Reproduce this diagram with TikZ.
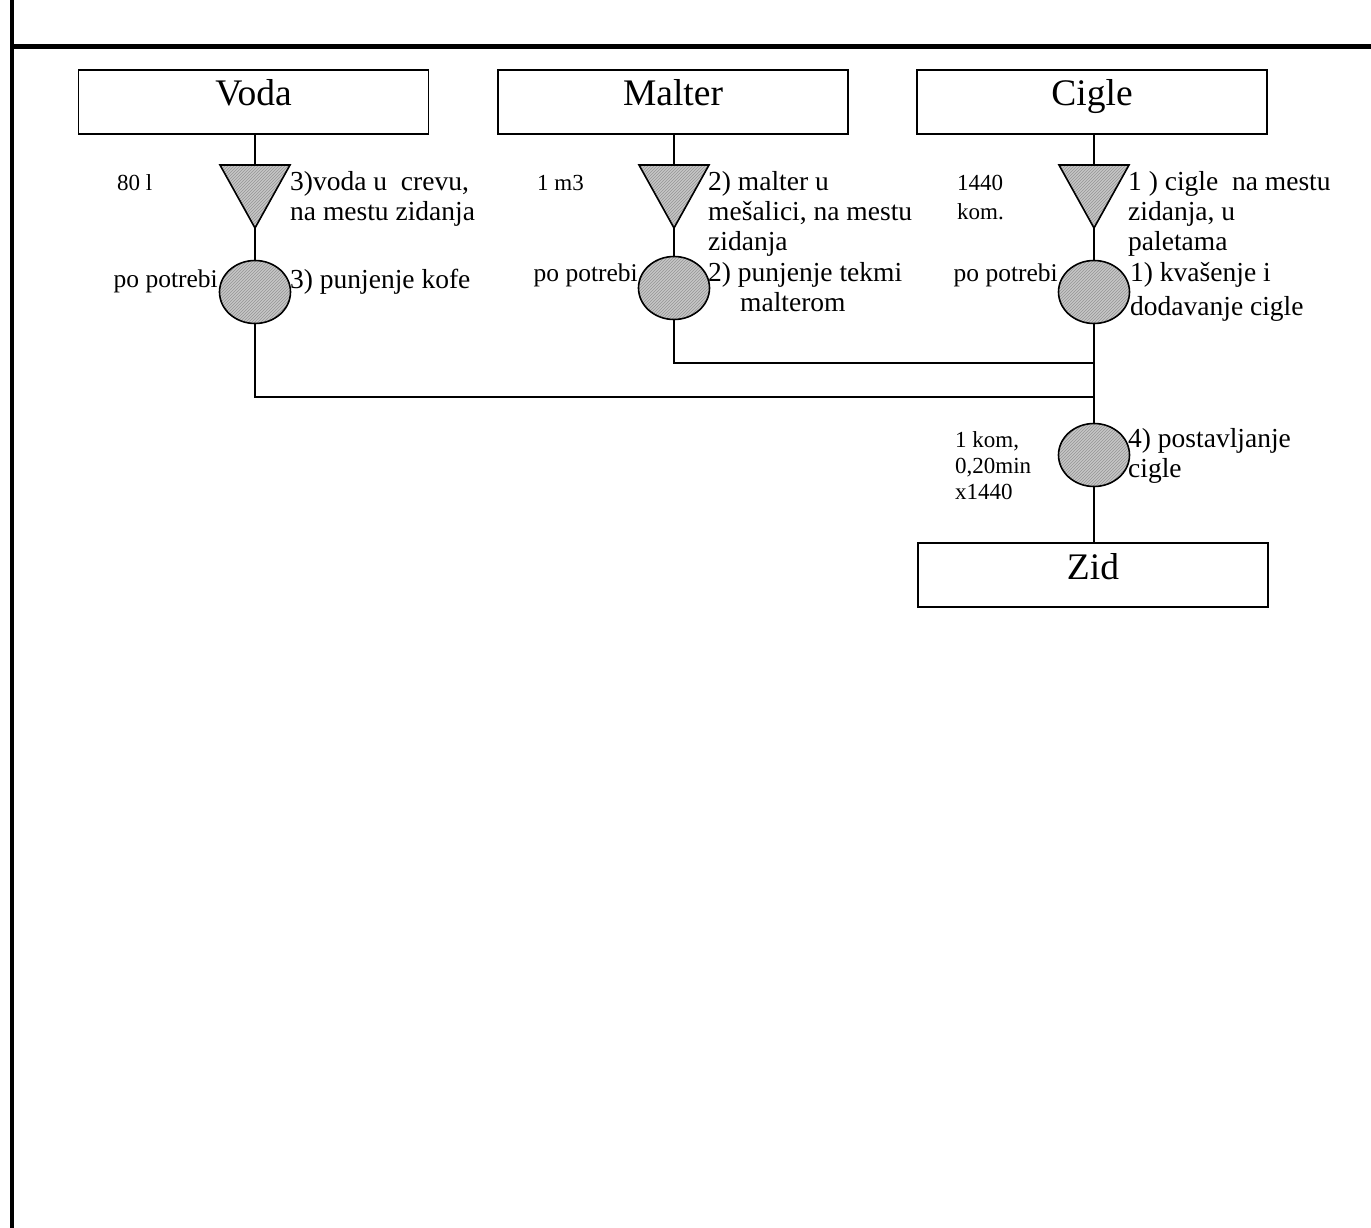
\documentclass[tikz,border=0pt]{standalone}
\usepackage{fontspec}
\setmainfont{Liberation Serif}
\usetikzlibrary{shapes}
\usetikzlibrary{patterns}

\tikzset{
	box/.style={draw, line width=1.6, rectangle, minimum width=350, minimum height=64, inner sep=0, text height=26, text depth=18, font={\fontsize{37.5}{42}\selectfont}},
	hatch/.style={draw, line width=1.6, inner sep=0, outer sep=0, preaction={fill=black!22}, pattern=north east lines, pattern color=black!42},
	stock/.style={hatch, isosceles triangle, shape border rotate=-90, isosceles triangle stretches, minimum width=70, minimum height=63},
	oper/.style={hatch, ellipse, minimum width=71, minimum height=63},
	lab/.style={inner sep=0, align=left, font={\fontsize{27.5}{30}\selectfont}},
	note/.style={inner sep=0, align=left, font={\fontsize{23}{28}\selectfont}},
	link/.style={line width=1.8}
}

\begin{document}
\begin{tikzpicture}[x=1pt, y=-1pt]
	\useasboundingbox (0,0) rectangle (1371,1228);
	
	% frame lines
	\draw[line width=4.5] (12,0) -- (12,1228);
	\draw[line width=5] (12,47) -- (1371,47);
	
	\def\xv{255} % column voda
	\def\xm{674} % column malter
	\def\xc{1094} % column cigle
	
	% boxes
	\node[box] (voda) at (253.5,102) {Voda};
	\node[box] (malter) at (673,102) {Malter};
	\node[box] (cigle) at (1092,102) {Cigle};
	\node[box] (zid) at (1093,575) {Zid};
	
	% storage triangles
	\node[stock, anchor=north] (TV) at (\xv,165) {};
	\node[stock, anchor=north] (TM) at (\xm,165) {};
	\node[stock, anchor=north] (TC) at (\xc,165) {};
	
	% operations
	\node[oper] (KV) at (\xv,292) {};
	\node[oper] (KM) at (\xm,288) {};
	\node[oper] (KC) at (\xc,292) {};
	\node[oper] (KZ) at (\xc,455) {};
	
	% junctions on the cigle line
	\coordinate (JM) at (\xc,363);
	\coordinate (JV) at (\xc,397);
	
	\draw[link] (TV) -- (TV |- voda.south);
	\draw[link] (TV) -- (KV);
	\draw[link] (TM) -- (TM |- malter.south);
	\draw[link] (TM) -- (KM);
	\draw[link] (TC) -- (TC |- cigle.south);
	\draw[link] (TC) -- (KC);
	\draw[link] (KC) -- (KZ);
	\draw[link] (KZ) -- (KZ |- zid.north);
	\draw[link] (KM) |- (JM);
	\draw[link] (KV) |- (JV);
	
	% quantities (base = last line)
	\node[note, anchor=base west] (qV) at (117,190) {80 l};
	\node[note, anchor=base west] (qM) at (537,190) {1 m3};
	\node[note, anchor=base west, font={\fontsize{23}{29}\selectfont}] (qC) at (957,219) {1440\\kom.};
	\node[note, anchor=base west, font={\fontsize{23}{26}\selectfont}] (qZ) at (955,499) {1 kom,\\0,20min\\x1440};
	
	% po potrebi
	\node[note, anchor=base east, font={\fontsize{25.5}{28}\selectfont}] (pV) at (218,287) {po potrebi};
	\node[note, anchor=base east, font={\fontsize{25.5}{28}\selectfont}] (pM) at (638,281) {po potrebi};
	\node[note, anchor=base east, font={\fontsize{25.5}{28}\selectfont}] (pC) at (1058,281) {po potrebi};
	
	% storage texts
	\node[lab, anchor=base west] (sV) at (290,220) {3)voda u\ \ crevu,\\na mestu zidanja};
	\node[lab, anchor=base west] (sM) at (708,250) {2) malter u\\mešalici, na mestu\\zidanja};
	\node[lab, anchor=base west] (sC) at (1128,250) {1 ) cigle\ \ na mestu\\zidanja, u\\paletama};
	
	% operation texts
	\node[lab, anchor=base west] (oV) at (290,288) {3) punjenje kofe};
	\node[lab, anchor=base west] (oM) at (708,311) {2) punjenje tekmi\\\hspace*{32pt}malterom};
	\node[lab, anchor=base west, font={\fontsize{27.5}{34}\selectfont}] (oC) at (1130,315) {1) kvašenje i\\dodavanje cigle};
	\node[lab, anchor=base west] (oZ) at (1128,477) {4) postavljanje\\cigle};
\end{tikzpicture}
\end{document}
